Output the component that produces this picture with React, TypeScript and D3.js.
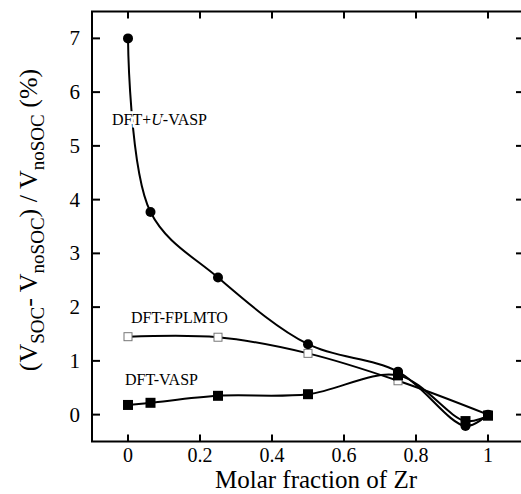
import * as d3 from 'd3';
import {useEffect, useRef} from "react";

// molar fraction of Zr
const xPlusU = [0, 0.0625, 0.25, 0.5, 0.75, 0.9375, 1];
const yPlusU = [7.0, 3.77, 2.55, 1.31, 0.80, -0.21, 0.0];

const xFplmto = [0, 0.25, 0.5, 0.75, 1];
const yFplmto = [1.45, 1.44, 1.14, 0.63, 0.0];

const xVasp = [0, 0.0625, 0.25, 0.5, 0.75, 0.9375, 1];
const yVasp = [0.18, 0.22, 0.35, 0.38, 0.73, -0.12, -0.02];

const xTicks = [0, 0.2, 0.4, 0.6, 0.8, 1];
const yTicks = [0, 1, 2, 3, 4, 5, 6, 7];

const W = 521;
const H = 494;
const FONT = "'Liberation Serif', 'Times New Roman', serif";

const App = () => {
    const ref = useRef<SVGSVGElement>(null);

    useEffect(() => {
        const svg = d3.select(ref.current);
        svg.selectAll("*").remove();

        const x = d3.scaleLinear().domain([-0.1, 1.1]).range([92, 524]);
        const y = d3.scaleLinear().domain([-0.5, 7.5]).range([441.5, 11.5]);

        const line = d3.line<[number, number]>()
            .x(d => x(d[0]))
            .y(d => y(d[1]))
            .curve(d3.curveCatmullRom.alpha(0.5));

        const zip = (xs: number[], ys: number[]) => xs.map((v, i) => [v, ys[i]] as [number, number]);

        const plusU = zip(xPlusU, yPlusU);
        const fplmto = zip(xFplmto, yFplmto);
        const vasp = zip(xVasp, yVasp);

        // frame
        svg.append("rect")
            .attr("x", x(-0.1)).attr("y", y(7.5))
            .attr("width", x(1.1) - x(-0.1)).attr("height", y(-0.5) - y(7.5))
            .attr("fill", "none").attr("stroke", "#000").attr("stroke-width", 2);

        // ticks, pointing inward
        const tk = svg.append("g").attr("stroke", "#000").attr("stroke-width", 2);
        xTicks.forEach(t => {
            tk.append("line").attr("x1", x(t)).attr("x2", x(t)).attr("y1", y(-0.5)).attr("y2", y(-0.5) - 7);
            tk.append("line").attr("x1", x(t)).attr("x2", x(t)).attr("y1", y(7.5)).attr("y2", y(7.5) + 7);
        });
        yTicks.forEach(t => {
            tk.append("line").attr("x1", x(-0.1)).attr("x2", x(-0.1) + 8).attr("y1", y(t)).attr("y2", y(t));
            tk.append("line").attr("x1", x(1.1)).attr("x2", x(1.1) - 8).attr("y1", y(t)).attr("y2", y(t));
        });

        // tick labels
        svg.append("g").selectAll("text").data(xTicks).enter().append("text")
            .attr("x", d => x(d)).attr("y", 462)
            .attr("text-anchor", "middle")
            .attr("font-family", FONT).attr("font-size", 20)
            .text(d => String(d));

        svg.append("g").selectAll("text").data(yTicks).enter().append("text")
            .attr("x", 80).attr("y", d => y(d) + 7)
            .attr("text-anchor", "end")
            .attr("font-family", FONT).attr("font-size", 21)
            .text(d => String(d));

        // curves
        [plusU, fplmto, vasp].forEach(s => {
            svg.append("path")
                .attr("d", line(s))
                .attr("fill", "none")
                .attr("stroke", "#000")
                .attr("stroke-width", 2);
        });

        // series labels (white halo breaks the curve like the original)
        const label = (tx: number, ty: number) => svg.append("text")
            .attr("x", tx).attr("y", ty)
            .attr("font-family", FONT).attr("font-size", 16)
            .attr("stroke", "#fff").attr("stroke-width", 5)
            .attr("paint-order", "stroke")
            .attr("fill", "#000");

        const l1 = label(112, 125);
        l1.append("tspan").text("DFT+");
        l1.append("tspan").attr("font-style", "italic").text("U");
        l1.append("tspan").text("-VASP");
        label(131, 323).text("DFT-FPLMTO");
        label(125, 385).text("DFT-VASP");

        // markers
        svg.append("g").selectAll("rect").data(fplmto).enter().append("rect")
            .attr("x", d => x(d[0]) - 4).attr("y", d => y(d[1]) - 4)
            .attr("width", 8).attr("height", 8)
            .attr("fill", "#fff").attr("stroke", "#777").attr("stroke-width", 1);

        svg.append("g").selectAll("rect").data(vasp).enter().append("rect")
            .attr("x", d => x(d[0]) - 5).attr("y", d => y(d[1]) - 5)
            .attr("width", 10).attr("height", 10)
            .attr("fill", "#000");

        svg.append("g").selectAll("circle").data(plusU).enter().append("circle")
            .attr("cx", d => x(d[0])).attr("cy", d => y(d[1]))
            .attr("r", 5)
            .attr("fill", "#000");

        // axis titles
        svg.append("text")
            .attr("x", 316).attr("y", 488)
            .attr("text-anchor", "middle")
            .attr("font-family", FONT).attr("font-size", 25)
            .text("Molar fraction of Zr");

        const yt = svg.append("text")
            .attr("transform", "translate(37,220) rotate(-90)")
            .attr("text-anchor", "middle")
            .attr("font-family", FONT).attr("font-size", 26);
        yt.append("tspan").text("(V");
        yt.append("tspan").attr("font-size", 19).attr("dy", 7).text("SOC");
        yt.append("tspan").attr("dy", -7).text("- V");
        yt.append("tspan").attr("font-size", 19).attr("dy", 7).text("noSOC");
        yt.append("tspan").attr("dy", -7).text(") / V");
        yt.append("tspan").attr("font-size", 19).attr("dy", 7).text("noSOC");
        yt.append("tspan").attr("dy", -7).text(" (%)");
    }, []);

    return (
        <div style={{position: "absolute", left: 0, top: 0}}>
            <svg ref={ref} width={W} height={H} style={{display: "block"}}/>
        </div>
    );
}

export default App;
